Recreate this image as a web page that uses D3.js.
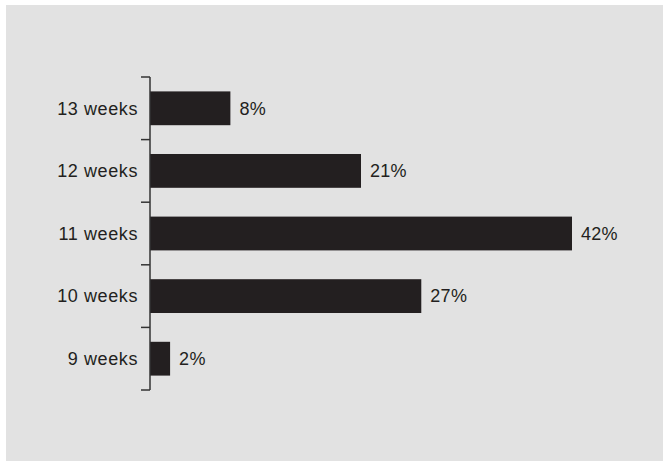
<!DOCTYPE html>
<html>
<head>
<meta charset="utf-8">
<script src="https://cdn.jsdelivr.net/npm/d3@7"></script>
<style>
  html, body { margin: 0; padding: 0; background: #ffffff; }
  svg { display: block; }
</style>
</head>
<body>
<svg id="chart" width="663" height="461"></svg>
<script>
// Share of pregnancies by gestation length
const categories = ["13 weeks", "12 weeks", "11 weeks", "10 weeks", "9 weeks"];
const values = [8, 21, 42, 27, 2];
const valueLabels = ["8%", "21%", "42%", "27%", "2%"];

const ink = "#231f20";
const svg = d3.select("#chart");

// panel background
svg.append("rect")
  .attr("x", 6).attr("y", 5)
  .attr("width", 663 - 6).attr("height", 461 - 5)
  .attr("fill", "#e2e2e2");

const axisX = 150;
const y = d3.scaleBand()
  .domain(categories)
  .range([77, 390])
  .paddingInner(0.46)
  .paddingOuter(0.23);

const x = d3.scaleLinear()
  .domain([0, 42])
  .range([axisX, 572]);

const font = "'Liberation Sans', Arial, Helvetica, sans-serif";

// bars
svg.append("g").selectAll("rect")
  .data(categories)
  .join("rect")
  .attr("x", x(0))
  .attr("y", d => y(d))
  .attr("width", (d, i) => x(values[i]) - x(0))
  .attr("height", y.bandwidth())
  .attr("fill", ink);

// value labels
svg.append("g").selectAll("text")
  .data(categories)
  .join("text")
  .attr("x", (d, i) => x(values[i]) + 9)
  .attr("y", d => y(d) + y.bandwidth() / 2)
  .attr("dy", "0.35em")
  .attr("font-family", font)
  .attr("font-size", 18)
  .attr("letter-spacing", "0.3px")
  .attr("fill", ink)
  .text((d, i) => valueLabels[i]);

// category axis: vertical line with ticks between bands
const step = y.step();
const r = y.range();
const axis = svg.append("g").attr("stroke", "#333").attr("stroke-width", 1.5).attr("fill", "none");
axis.append("line")
  .attr("x1", axisX).attr("x2", axisX)
  .attr("y1", r[0]).attr("y2", r[1]);
const boundaries = d3.range(categories.length + 1).map(i => r[0] + i * step);
axis.selectAll("line.tick")
  .data(boundaries)
  .join("line")
  .attr("class", "tick")
  .attr("x1", axisX - 9).attr("x2", axisX)
  .attr("y1", d => d).attr("y2", d => d);

// category labels
svg.append("g").selectAll("text")
  .data(categories)
  .join("text")
  .attr("x", axisX - 12)
  .attr("y", d => y(d) + y.bandwidth() / 2)
  .attr("dy", "0.35em")
  .attr("text-anchor", "end")
  .attr("font-family", font)
  .attr("font-size", 18)
  .attr("letter-spacing", "0.6px")
  .attr("fill", ink)
  .text(d => d);
</script>
</body>
</html>
